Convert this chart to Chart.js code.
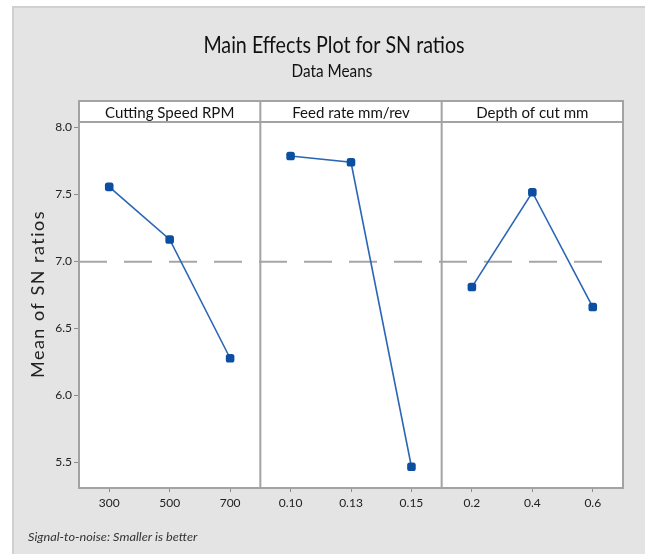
<!DOCTYPE html>
<html>
<head>
<meta charset="utf-8">
<title>Main Effects Plot for SN ratios</title>
<script src="https://cdn.jsdelivr.net/npm/chart.js@4.4.1/dist/chart.umd.min.js"></script>
<style>
    html, body { margin: 0; padding: 0; background: #fff; }
    canvas { display: block; }
</style>
</head>
<body>
<canvas id="mainEffects" width="653" height="554"></canvas>
<script>
// factor levels (x tick labels per panel)
const speedLevels = ['300', '500', '700'];
const feedLevels = ['0.10', '0.13', '0.15'];
const depthLevels = ['0.2', '0.4', '0.6'];

// mean SN ratio at each level
const speedSN = [7.557, 7.164, 6.276];
const feedSN = [7.788, 7.741, 5.465];
const depthSN = [6.808, 7.517, 6.659];

const factorNames = ['Cutting Speed RPM', 'Feed rate mm/rev', 'Depth of cut mm'];
const yTicks = [5.5, 6.0, 6.5, 7.0, 7.5, 8.0];

const chartTitle = 'Main Effects Plot for SN ratios';
const chartSubtitle = 'Data Means';
const yTitle = 'Mean of SN ratios';
const footnote = 'Signal-to-noise: Smaller is better';

const labels = [...speedLevels, ...feedLevels, ...depthLevels];
const groups = [speedSN, feedSN, depthSN];
const allValues = groups.flat();
const grandMean = allValues.reduce((a, b) => a + b, 0) / allValues.length;

// each factor only lives in its own third of the category axis
function padded(values, panel) {
    const out = new Array(labels.length).fill(null);
    values.forEach((v, i) => { out[panel * 3 + i] = v; });
    return out;
}

const FONT = 'Lato, "Liberation Sans", sans-serif';

function drawText(ctx, text, x, y, font, color, sx, align) {
    ctx.save();
    ctx.translate(x, y);
    ctx.scale(sx, 1);
    ctx.font = font;
    ctx.fillStyle = color;
    ctx.textAlign = align || 'center';
    ctx.textBaseline = 'middle';
    ctx.fillText(text, 0, 0);
    ctx.restore();
}

const panelPlugin = {
    id: 'panels',
    beforeDraw(chart) {
        const ctx = chart.ctx;
        const a = chart.chartArea;
        ctx.save();
        ctx.fillStyle = '#ffffff';
        ctx.fillRect(0, 0, chart.width, chart.height);
        // grey page
        ctx.fillStyle = '#e4e4e4';
        ctx.fillRect(12, 6, 633, chart.height - 6);
        ctx.strokeStyle = '#d0d0d0';
        ctx.lineWidth = 2;
        ctx.beginPath();
        ctx.moveTo(13, chart.height);
        ctx.lineTo(13, 7);
        ctx.lineTo(645, 7);
        ctx.stroke();
        // plot background
        ctx.fillStyle = '#ffffff';
        ctx.fillRect(a.left, a.top, a.right - a.left, a.bottom - a.top);
        ctx.restore();
    },
    beforeDatasetsDraw(chart) {
        // grand mean reference line
        const ctx = chart.ctx;
        const a = chart.chartArea;
        const y = chart.scales.y.getPixelForValue(grandMean);
        ctx.save();
        ctx.strokeStyle = '#a6a6a6';
        ctx.lineWidth = 2;
        ctx.setLineDash([28, 17]);
        ctx.beginPath();
        ctx.moveTo(a.left, y);
        ctx.lineTo(a.right - 12, y);
        ctx.stroke();
        ctx.restore();
    },
    afterDraw(chart) {
        const ctx = chart.ctx;
        const a = chart.chartArea;
        const x = chart.scales.x;
        const stripTop = a.top - 21;

        const bounds = [a.left];
        for (let p = 1; p < groups.length; p++) {
            bounds.push((x.getPixelForValue(p * 3 - 1) + x.getPixelForValue(p * 3)) / 2);
        }
        bounds.push(a.right);

        ctx.save();
        // strip boxes
        ctx.fillStyle = '#ffffff';
        ctx.fillRect(a.left, stripTop, a.right - a.left, a.top - stripTop);
        ctx.strokeStyle = '#a3a3a3';
        ctx.lineWidth = 2;
        ctx.strokeRect(a.left, stripTop, a.right - a.left, a.bottom - stripTop);
        ctx.beginPath();
        ctx.moveTo(a.left, a.top);
        ctx.lineTo(a.right, a.top);
        for (let p = 1; p < groups.length; p++) {
            ctx.moveTo(bounds[p], stripTop);
            ctx.lineTo(bounds[p], a.bottom);
        }
        ctx.stroke();
        ctx.restore();

        factorNames.forEach((name, p) => {
            drawText(ctx, name, (bounds[p] + bounds[p + 1]) / 2, (stripTop + a.top) / 2 + 1,
                '16px ' + FONT, '#141414', 0.94);
        });

        drawText(ctx, chartTitle, 334, 45, '24px ' + FONT, '#111111', 0.82);
        drawText(ctx, chartSubtitle, 332, 72, '17px ' + FONT, '#111111', 0.9);
        drawText(ctx, footnote, 28, 537, 'italic 12px ' + FONT, '#333333', 1.06, 'left');

        ctx.save();
        ctx.translate(38, 294);
        ctx.rotate(-Math.PI / 2);
        ctx.letterSpacing = '1.5px';
        ctx.font = '18px ' + FONT;
        ctx.fillStyle = '#222222';
        ctx.textAlign = 'center';
        ctx.textBaseline = 'middle';
        ctx.fillText(yTitle, 0, 0);
        ctx.restore();
    }
};

const datasets = groups.map((values, p) => ({
    label: factorNames[p],
    data: padded(values, p),
    borderColor: '#2a66b5',
    borderWidth: 1.6,
    pointStyle: 'rectRounded',
    pointRadius: 5,
    pointBackgroundColor: '#0b4ea2',
    pointBorderColor: '#0b4ea2',
    pointBorderWidth: 0,
    spanGaps: false,
    tension: 0,
    fill: false
}));

new Chart(document.getElementById('mainEffects'), {
    type: 'line',
    data: { labels: labels, datasets: datasets },
    plugins: [panelPlugin],
    options: {
        responsive: false,
        animation: false,
        layout: { padding: { left: 12, right: 30, top: 122, bottom: 20 } },
        plugins: {
            legend: { display: false },
            tooltip: { enabled: false }
        },
        scales: {
            x: {
                type: 'category',
                offset: true,
                border: { display: false },
                grid: {
                    drawOnChartArea: false,
                    drawTicks: true,
                    tickLength: 4,
                    color: '#8c8c8c'
                },
                ticks: {
                    color: '#222222',
                    font: { family: FONT, size: 12 },
                    padding: 4,
                    maxRotation: 0,
                    autoSkip: false
                },
                afterFit(scale) { scale.height = 46; }
            },
            y: {
                min: 5.306,
                max: 8.042,
                border: { display: false },
                grid: {
                    drawOnChartArea: false,
                    drawTicks: true,
                    tickLength: 5,
                    color: '#8c8c8c'
                },
                afterBuildTicks(scale) {
                    scale.ticks = yTicks.map(v => ({ value: v }));
                },
                ticks: {
                    color: '#222222',
                    font: { family: FONT, size: 12 },
                    padding: 2,
                    callback: v => Number(v).toFixed(1)
                },
                afterFit(scale) { scale.width = 67; }
            }
        }
    }
});
</script>
</body>
</html>
